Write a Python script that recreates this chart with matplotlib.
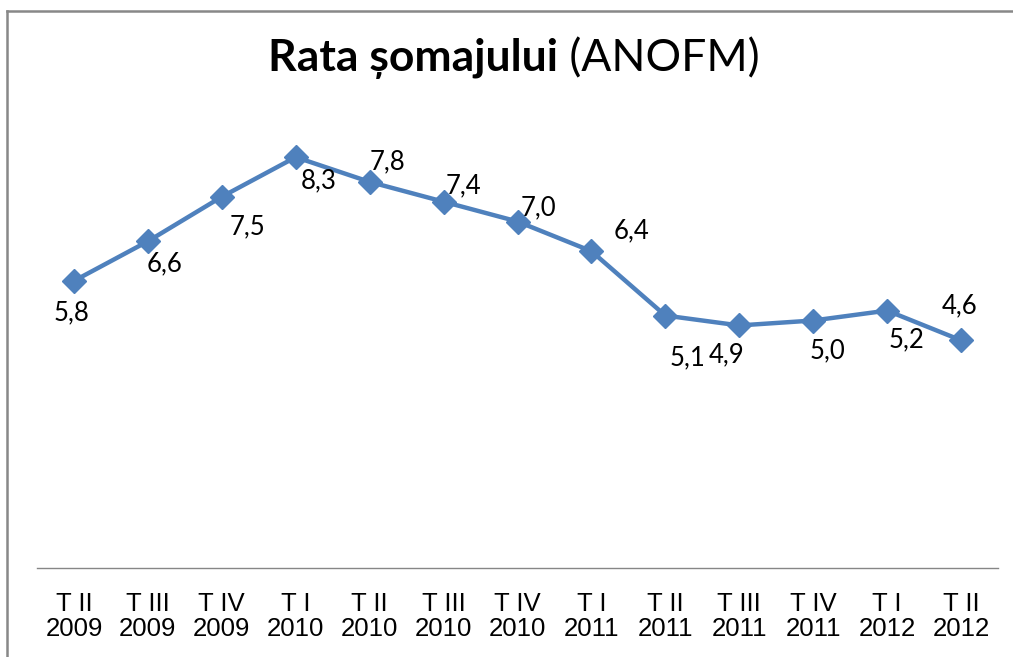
import matplotlib
matplotlib.use("Agg")
import matplotlib.pyplot as plt
from matplotlib.lines import Line2D

# Data
categories = ["T II\n2009", "T III\n2009", "T IV\n2009", "T I\n2010", "T II\n2010",
              "T III\n2010", "T IV\n2010", "T I\n2011", "T II\n2011", "T III\n2011",
              "T IV\n2011", "T I\n2012", "T II\n2012"]
values = [5.8, 6.6, 7.5, 8.3, 7.8, 7.4, 7.0, 6.4, 5.1, 4.9, 5.0, 5.2, 4.6]
value_labels = ["5,8", "6,6", "7,5", "8,3", "7,8", "7,4", "7,0", "6,4", "5,1", "4,9", "5,0", "5,2", "4,6"]

# label offsets in pixels (dx right, dy down) of cap-center relative to the marker
label_offsets = [(-2, 30), (17, 21), (26, 29), (23, 22), (18, -22), (20, -17), (21, -15),
                 (40, -22), (22, 41), (-13, 28), (14, 29), (19, 28), (-1, -36)]

W, H = 1013, 657
fig = plt.figure(figsize=(W / 100, H / 100), dpi=100)
fig.patch.set_facecolor("white")

ax = fig.add_axes([37 / W, 1 - 568 / H, (998 - 37) / W, (568 - 73) / H])
color = "#4F81BD"
x = list(range(len(values)))
ax.plot(x, values, color=color, lw=3.2, marker="D", markersize=12,
        markerfacecolor=color, markeredgecolor=color, solid_joinstyle="round", zorder=3)

ax.set_xlim(-0.5, len(values) - 0.5)
ax.set_ylim(0, 10)
for s in ["top", "right", "left"]:
    ax.spines[s].set_visible(False)
ax.spines["bottom"].set_color("#868686")
ax.spines["bottom"].set_linewidth(1.0)
ax.set_yticks([])
ax.set_xticks(x)
ax.set_xticklabels(categories, linespacing=1.05)
for lbl in ax.get_xticklabels():
    lbl.set_fontfamily(["Liberation Sans"])
    lbl.set_fontsize(18.5)
ax.tick_params(axis="x", length=0, pad=17)

for xi, v, lab, (dx, dy) in zip(x, values, value_labels, label_offsets):
    ax.annotate(lab, (xi, v), xytext=(dx, -(dy + 9)), textcoords="offset pixels",
                ha="center", va="baseline", fontsize=18.5, family="Lato", color="black")

# Title: bold part + normal part
fig.canvas.draw()
renderer = fig.canvas.get_renderer()
t1 = fig.text(0, 1 - 71 / H, "Rata șomajului", fontsize=32, fontweight="bold",
              family="Lato", ha="left", va="baseline")
t2 = fig.text(0, 1 - 71 / H, " (ANOFM)", fontsize=32, family="Lato",
              ha="left", va="baseline")
w1 = t1.get_window_extent(renderer).width
w2 = t2.get_window_extent(renderer).width
total = w1 + w2
cx = 514
start = cx - total / 2
t1.set_x(start / W)
t2.set_x((start + w1) / W)

# Frame lines (top and left)
fig.add_artist(Line2D([7 / W, 1.0], [1 - 11 / H, 1 - 11 / H], transform=fig.transFigure,
                      color="#888888", lw=1.8))
fig.add_artist(Line2D([7 / W, 7 / W], [1 - 11 / H, 0], transform=fig.transFigure,
                      color="#888888", lw=1.8))

fig.savefig("out.png", dpi=100, facecolor="white")
